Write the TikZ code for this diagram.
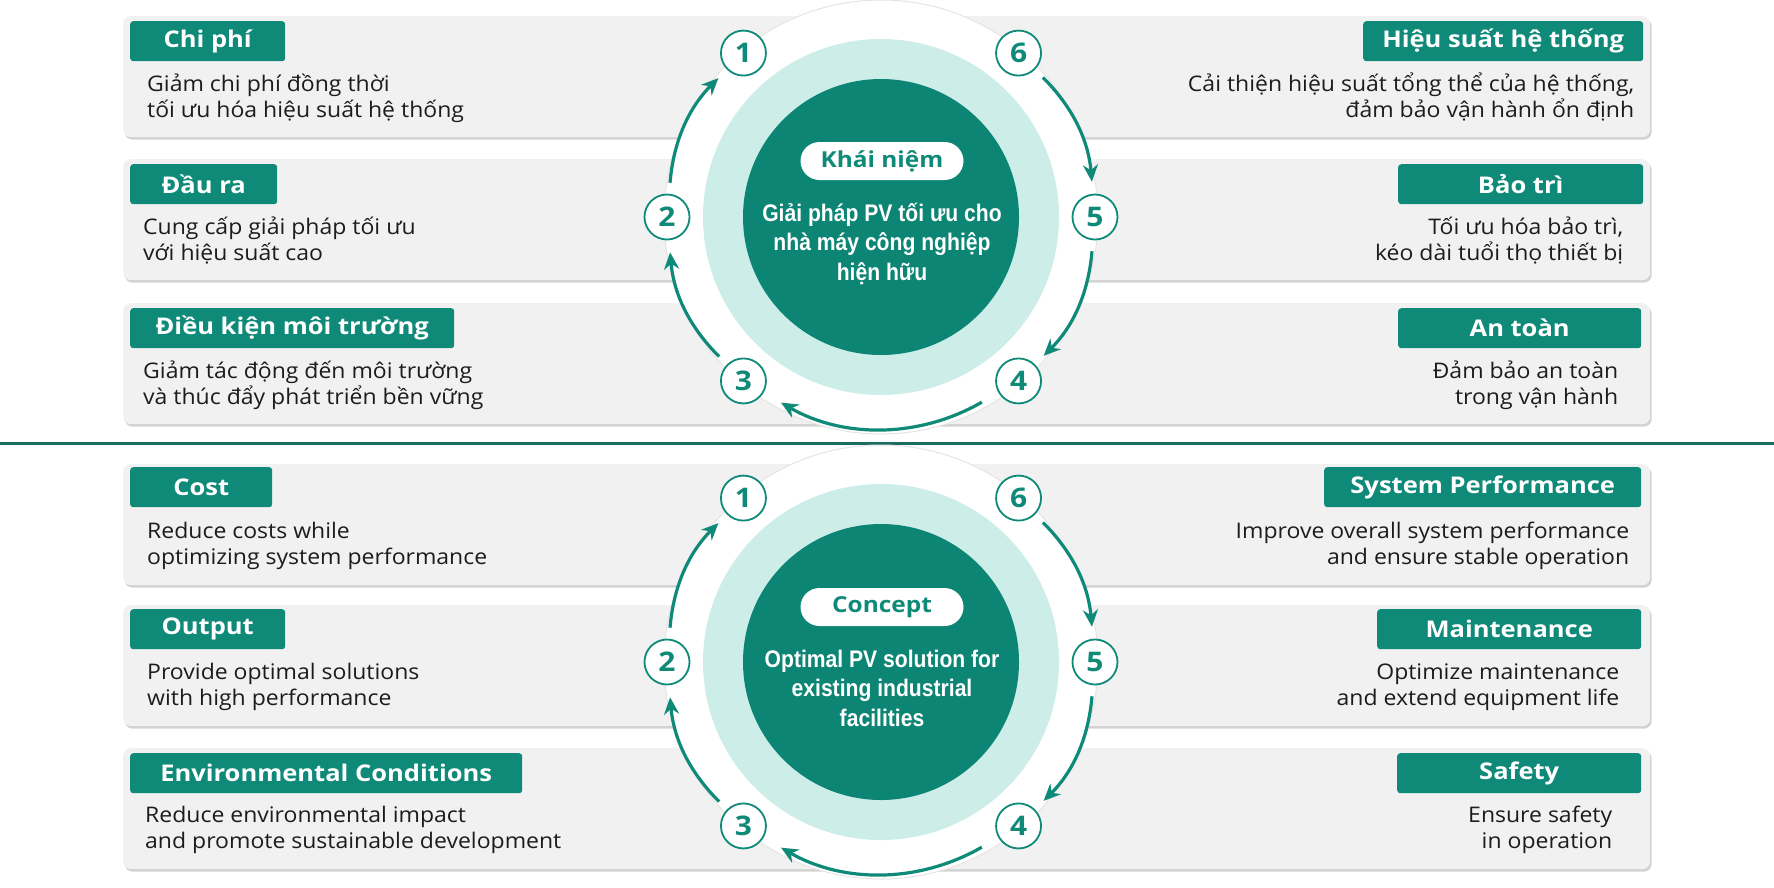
\documentclass[tikz,border=0pt]{standalone}
\usepackage{fontspec}
\setmainfont{Open Sans}[FakeStretch=1.07]
\newfontfamily\tagfont[FakeStretch=1.11]{Open Sans}
\newfontfamily\corefont[FakeStretch=0.88]{Liberation Sans}
\usetikzlibrary{arrows.meta,positioning,shadows}

\definecolor{pvteal}{HTML}{0F8A78}
\definecolor{pvdark}{HTML}{0C8574}
\definecolor{pvmint}{HTML}{CDEDE9}
\definecolor{pvcard}{HTML}{F1F1F1}
\definecolor{pvline}{HTML}{1C6D61}
\definecolor{pvink}{HTML}{1C1C1C}

\begin{document}
\begin{tikzpicture}[
    x=1pt, y=-1pt,
    bar/.style={rectangle, rounded corners=8pt, fill=pvcard, anchor=north west,
      minimum width=1527pt, minimum height=121pt, inner sep=0pt,
      drop shadow={shadow xshift=1.5pt, shadow yshift=-2.5pt, opacity=0.35}},
    tag/.style={fill=pvteal, rounded corners=3pt, text=white, minimum height=40pt,
      inner sep=0pt, font=\tagfont\fontsize{23}{27}\selectfont\bfseries},
    body/.style={text=pvink, inner sep=0pt, font=\fontsize{21.5}{26}\selectfont},
    ring/.style={circle, fill=white, draw=black!10, line width=1pt, minimum size=434pt, inner sep=0pt},
    halo/.style={circle, fill=pvmint, minimum size=356pt, inner sep=0pt},
    core/.style={circle, fill=pvdark, minimum size=276pt, inner sep=0pt},
    badge/.style={circle, draw=pvteal, line width=1.8pt, fill=white, minimum size=45pt,
      inner sep=0pt, text=pvteal, font=\tagfont\fontsize{27}{27}\selectfont\bfseries},
    flow/.style={pvteal, line width=3.2pt, -{Stealth[length=17pt, width=15pt]},
      shorten <=11pt, shorten >=12pt},
    pill/.style={fill=white, rounded corners=19pt, minimum width=163pt, minimum height=38pt,
      inner sep=0pt, text=pvteal, font=\tagfont\fontsize{22}{22}\selectfont\bfseries},
    idea/.style={text=white, align=center, inner sep=0pt,
      font=\corefont\fontsize{24}{29.5}\selectfont\bfseries}
  ]

  % Canvas
  \fill[white] (0,0) rectangle (1774,887);
  \useasboundingbox (0,0) rectangle (1774,887);

  % Divider
  \coordinate (sepW) at (0,443);
  \coordinate (sepE) at (1774,443);
  \draw[pvline, line width=3pt] (sepW) -- (sepE);

  % Card bars
  \node[bar] (bar1) at (123,16) {};
  \node[bar] (bar2) at (123,159) {};
  \node[bar] (bar3) at (123,303) {};
  \node[bar] (bar4) at (123,464) {};
  \node[bar] (bar5) at (123,605) {};
  \node[bar] (bar6) at (123,748) {};

  % Upper half, left cards
  \node[tag, minimum width=155pt, anchor=north west] (tag1) at ([shift={(7,5)}]bar1.north west) {Chi phí};
  \node[tag, minimum width=147pt, anchor=north west] (tag2) at ([shift={(7,5)}]bar2.north west) {Đầu ra};
  \node[tag, minimum width=324pt, anchor=north west] (tag3) at ([shift={(7,5)}]bar3.north west) {Điều kiện môi trường};
  \node[body, anchor=base west, align=left] (txt1) at ([shift={(24,101)}]bar1.north west) {Giảm chi phí đồng thời\\tối ưu hóa hiệu suất hệ thống};
  \node[body, anchor=base west, align=left] (txt2) at ([shift={(20,101)}]bar2.north west) {Cung cấp giải pháp tối ưu\\với hiệu suất cao};
  \node[body, anchor=base west, align=left] (txt3) at ([shift={(20,101)}]bar3.north west) {Giảm tác động đến môi trường\\và thúc đẩy phát triển bền vững};

  % Upper half, right cards
  \node[tag, minimum width=280pt, anchor=north east] (tag6) at ([shift={(-7,5)}]bar1.north east) {Hiệu suất hệ thống};
  \node[tag, minimum width=245pt, anchor=north east] (tag5) at ([shift={(-7,5)}]bar2.north east) {Bảo trì};
  \node[tag, minimum width=243pt, anchor=north east] (tag4) at ([shift={(-9,5)}]bar3.north east) {An toàn};
  \node[body, anchor=base east, align=right] (txt6) at ([shift={(-16,101)}]bar1.north east) {Cải thiện hiệu suất tổng thể của hệ thống,\\đảm bảo vận hành ổn định};
  \node[body, anchor=base east, align=right] (txt5) at ([shift={(-27,101)}]bar2.north east) {Tối ưu hóa bảo trì,\\kéo dài tuổi thọ thiết bị};
  \node[body, anchor=base east, align=right] (txt4) at ([shift={(-32,101)}]bar3.north east) {Đảm bảo an toàn\\trong vận hành};

  % Lower half, left cards
  \node[tag, minimum width=142pt, anchor=north west] (tagA) at ([shift={(7,3)}]bar4.north west) {Cost};
  \node[tag, minimum width=155pt, anchor=north west] (tagB) at ([shift={(7,4)}]bar5.north west) {Output};
  \node[tag, minimum width=392pt, anchor=north west] (tagC) at ([shift={(7,5)}]bar6.north west) {Environmental Conditions};
  \node[body, anchor=base west, align=left] (txtA) at ([shift={(24,100)}]bar4.north west) {Reduce costs while\\optimizing system performance};
  \node[body, anchor=base west, align=left] (txtB) at ([shift={(24,100)}]bar5.north west) {Provide optimal solutions\\with high performance};
  \node[body, anchor=base west, align=left] (txtC) at ([shift={(22,100)}]bar6.north west) {Reduce environmental impact\\and promote sustainable development};

  % Lower half, right cards
  \node[tag, minimum width=317pt, anchor=north east] (tagF) at ([shift={(-9,3)}]bar4.north east) {System Performance};
  \node[tag, minimum width=264pt, anchor=north east] (tagE) at ([shift={(-9,4)}]bar5.north east) {Maintenance};
  \node[tag, minimum width=244pt, anchor=north east] (tagD) at ([shift={(-9,5)}]bar6.north east) {Safety};
  \node[body, anchor=base east, align=right] (txtF) at ([shift={(-21,100)}]bar4.north east) {Improve overall system performance\\and ensure stable operation};
  \node[body, anchor=base east, align=right] (txtE) at ([shift={(-31,100)}]bar5.north east) {Optimize maintenance\\and extend equipment life};
  \node[body, anchor=base east, align=right] (txtD) at ([shift={(-38,100)}]bar6.north east) {Ensure safety\\in operation};

  % Cycles
  \foreach \h/\cy in {u/217, l/662} {
    \node[ring] (\h-ring) at (881,\cy) {};
    \node[halo] (\h-halo) at (881,\cy) {};
    \node[core] (\h-core) at (881,\cy) {};
    \foreach \n/\a in {1/-130, 2/180, 3/130, 4/50, 5/0, 6/-50}
      \node[badge] (\h\n) at ([shift={(\a:214)}]\h-ring.center) {\n};
    \draw[flow] (\h6) to[bend left=20] (\h5);
    \draw[flow] (\h5) to[bend left=20] (\h4);
    \draw[flow, shorten <=19pt, shorten >=20pt] (\h4) to[bend left=30] (\h3);
    \draw[flow] (\h3) to[bend left=20] (\h2);
    \draw[flow] (\h2) to[bend left=20] (\h1);
  }

  % Concept labels
  \node[pill] (u-pill) at (882,161) {Khái niệm};
  \node[idea, anchor=base] (u-idea) at (882,280) {Giải pháp PV tối ưu cho\\nhà máy công nghiệp\\hiện hữu};
  \node[pill] (l-pill) at (882,607) {Concept};
  \node[idea, anchor=base] (l-idea) at (882,726) {Optimal PV solution for\\existing industrial\\facilities};

\end{tikzpicture}
\end{document}
